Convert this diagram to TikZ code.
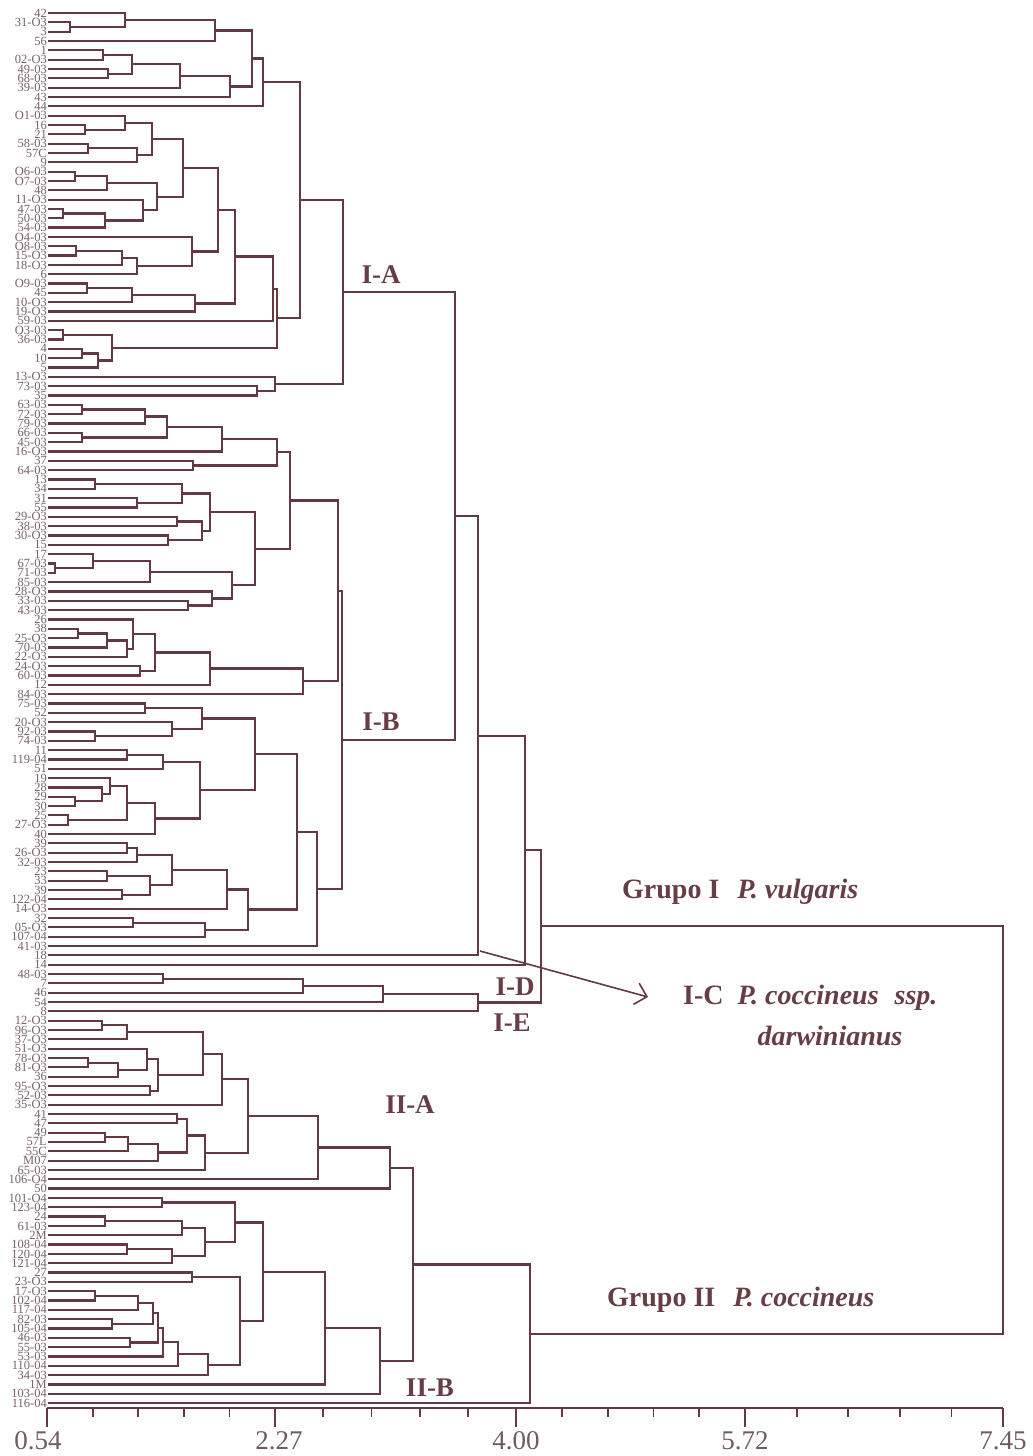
\documentclass[tikz,border=0pt]{standalone}
\usepackage{fontspec}
\setmainfont{Liberation Serif}
\usetikzlibrary{calc,arrows.meta}
\definecolor{ln}{RGB}{100,58,66}
\definecolor{lt}{RGB}{122,98,104}
\definecolor{gl}{RGB}{104,62,70}
\definecolor{ax}{RGB}{110,92,96}
\newcommand\dleaf[2]{%
  \node[lab] (t#1) at (47,{-(13+(#1-1)*9.33)}) {#2};
  \coordinate (L#1) at (48,{-(13+(#1-1)*9.33)});}
\newcommand\dmerge[4]{%
  \draw[br] let \p1=(#2), \p2=(#3) in (\p1) -- ({#4pt},\y1) -- ({#4pt},\y2) -- (\p2);
  \path let \p1=(#2), \p2=(#3) in ({#4pt},{(\y1+\y2)/2}) coordinate (#1);}
\begin{document}
\begin{tikzpicture}[x=1pt,y=1pt,
  br/.style={draw=ln,line width=2.2pt,line join=miter},
  lab/.style={anchor=east,text=lt,inner sep=0pt,font=\fontsize{12.5}{12}\selectfont},
  grp/.style={text=gl,inner sep=0pt,font=\fontsize{27}{27}\selectfont\bfseries},
  big/.style={text=gl,inner sep=0pt,anchor=west,font=\fontsize{28}{28}\selectfont\bfseries},
  axl/.style={text=ax,inner sep=0pt,font=\fontsize{27}{27}\selectfont},
  tk/.style={draw=ln,line width=1.8pt},
  arr/.style={draw=ln,line width=1.6pt,-{Straight Barb[length=11pt,width=22pt,line width=1.6pt]}}]
\fill[white] (0,-1456) rectangle (1033,0);
\useasboundingbox (0,-1456) rectangle (1033,0);
% leaves
\dleaf{1}{42}\dleaf{2}{31-O3}\dleaf{3}{3}\dleaf{4}{56}\dleaf{5}{1}
\dleaf{6}{02-O3}\dleaf{7}{49-03}\dleaf{8}{68-03}\dleaf{9}{39-03}\dleaf{10}{43}
\dleaf{11}{44}\dleaf{12}{O1-03}\dleaf{13}{16}\dleaf{14}{21}\dleaf{15}{58-03}
\dleaf{16}{57C}\dleaf{17}{9}\dleaf{18}{O6-03}\dleaf{19}{O7-03}\dleaf{20}{48}
\dleaf{21}{11-O3}\dleaf{22}{47-03}\dleaf{23}{50-03}\dleaf{24}{54-03}\dleaf{25}{O4-03}
\dleaf{26}{O8-03}\dleaf{27}{15-O3}\dleaf{28}{18-O3}\dleaf{29}{6}\dleaf{30}{O9-03}
\dleaf{31}{45}\dleaf{32}{10-O3}\dleaf{33}{19-O3}\dleaf{34}{59-03}\dleaf{35}{O3-03}
\dleaf{36}{36-03}\dleaf{37}{4}\dleaf{38}{10}\dleaf{39}{5}\dleaf{40}{13-O3}
\dleaf{41}{73-03}\dleaf{42}{35}\dleaf{43}{63-03}\dleaf{44}{72-03}\dleaf{45}{79-03}
\dleaf{46}{66-03}\dleaf{47}{45-03}\dleaf{48}{16-O3}\dleaf{49}{37}\dleaf{50}{64-03}
\dleaf{51}{13}\dleaf{52}{34}\dleaf{53}{31}\dleaf{54}{55}\dleaf{55}{29-O3}
\dleaf{56}{38-03}\dleaf{57}{30-O3}\dleaf{58}{15}\dleaf{59}{17}\dleaf{60}{67-03}
\dleaf{61}{71-03}\dleaf{62}{85-03}\dleaf{63}{28-O3}\dleaf{64}{33-03}\dleaf{65}{43-03}
\dleaf{66}{26}\dleaf{67}{38}\dleaf{68}{25-O3}\dleaf{69}{70-03}\dleaf{70}{22-O3}
\dleaf{71}{24-O3}\dleaf{72}{60-03}\dleaf{73}{12}\dleaf{74}{84-03}\dleaf{75}{75-03}
\dleaf{76}{52}\dleaf{77}{20-O3}\dleaf{78}{92-03}\dleaf{79}{74-03}\dleaf{80}{11}
\dleaf{81}{119-04}\dleaf{82}{51}\dleaf{83}{19}\dleaf{84}{28}\dleaf{85}{29}
\dleaf{86}{30}\dleaf{87}{25}\dleaf{88}{27-O3}\dleaf{89}{40}\dleaf{90}{39}
\dleaf{91}{26-O3}\dleaf{92}{32-03}\dleaf{93}{23}\dleaf{94}{33}\dleaf{95}{39}
\dleaf{96}{122-04}\dleaf{97}{14-O3}\dleaf{98}{32}\dleaf{99}{05-O3}\dleaf{100}{107-04}
\dleaf{101}{41-03}\dleaf{102}{18}\dleaf{103}{14}\dleaf{104}{48-03}\dleaf{105}{7}
\dleaf{106}{46}\dleaf{107}{54}\dleaf{108}{8}\dleaf{109}{12-O3}\dleaf{110}{96-O3}
\dleaf{111}{37-O3}\dleaf{112}{51-O3}\dleaf{113}{78-O3}\dleaf{114}{81-O3}\dleaf{115}{36}
\dleaf{116}{95-O3}\dleaf{117}{52-03}\dleaf{118}{35-O3}\dleaf{119}{41}\dleaf{120}{47}
\dleaf{121}{49}\dleaf{122}{57L}\dleaf{123}{55C}\dleaf{124}{M07}\dleaf{125}{65-03}
\dleaf{126}{106-O4}\dleaf{127}{50}\dleaf{128}{101-O4}\dleaf{129}{123-04}\dleaf{130}{24}
\dleaf{131}{61-03}\dleaf{132}{2M}\dleaf{133}{108-04}\dleaf{134}{120-04}\dleaf{135}{121-04}
\dleaf{136}{27}\dleaf{137}{23-O3}\dleaf{138}{17-O3}\dleaf{139}{102-04}\dleaf{140}{117-04}
\dleaf{141}{82-03}\dleaf{142}{105-04}\dleaf{143}{46-03}\dleaf{144}{55-03}\dleaf{145}{53-03}
\dleaf{146}{110-04}\dleaf{147}{34-03}\dleaf{148}{1M}\dleaf{149}{103-04}\dleaf{150}{116-04}
% I-A
\dmerge{a1}{L2}{L3}{70}\dmerge{a2}{L1}{a1}{125}\dmerge{a3}{a2}{L4}{215}
\dmerge{a4}{L5}{L6}{103}\dmerge{a5}{L7}{L8}{108}\dmerge{a6}{a4}{a5}{132}
\dmerge{a7}{a6}{L9}{180}\dmerge{a8}{a7}{L10}{230}\dmerge{a9}{a3}{a8}{252}
\dmerge{a10}{a9}{L11}{263}
\dmerge{b1}{L13}{L14}{85}\dmerge{b2}{L12}{b1}{125}\dmerge{b3}{L15}{L16}{88}
\dmerge{b4}{b3}{L17}{137}\dmerge{b5}{b2}{b4}{152}\dmerge{b6}{L18}{L19}{75}
\dmerge{b7}{b6}{L20}{107}\dmerge{b8}{L22}{L23}{63}\dmerge{b9}{b8}{L24}{105}
\dmerge{b10}{L21}{b9}{143}\dmerge{b11}{b7}{b10}{157}\dmerge{b12}{b5}{b11}{183}
\dmerge{b13}{L26}{L27}{76}\dmerge{b14}{b13}{L28}{122}\dmerge{b15}{b14}{L29}{137}
\dmerge{b16}{L25}{b15}{192}\dmerge{b17}{b12}{b16}{218}\dmerge{b18}{L30}{L31}{87}
\dmerge{b19}{b18}{L32}{132}\dmerge{b20}{b19}{L33}{195}\dmerge{b21}{b17}{b20}{235}
\dmerge{b22}{b21}{L34}{273}\dmerge{b23}{L35}{L36}{63}\dmerge{b24}{L37}{L38}{82}
\dmerge{b25}{b24}{L39}{98}\dmerge{b26}{b23}{b25}{112}\dmerge{b27}{b22}{b26}{277}
\dmerge{c1}{a10}{b27}{300}\dmerge{c2}{L41}{L42}{257}\dmerge{c3}{L40}{c2}{275}
\dmerge{IA}{c1}{c3}{343}
% I-B
\dmerge{d1}{L43}{L44}{82}\dmerge{d2}{d1}{L45}{145}\dmerge{d3}{L46}{L47}{82}
\dmerge{d4}{d2}{d3}{167}\dmerge{d5}{d4}{L48}{222}\dmerge{d6}{L49}{L50}{193}
\dmerge{d7}{d5}{d6}{277}\dmerge{d8}{L51}{L52}{95}\dmerge{d9}{L53}{L54}{137}
\dmerge{d10}{d8}{d9}{182}\dmerge{d11}{L55}{L56}{177}\dmerge{d12}{L57}{L58}{168}
\dmerge{d13}{d11}{d12}{202}\dmerge{d14}{d10}{d13}{210}\dmerge{d15}{L60}{L61}{55}
\dmerge{d16}{L59}{d15}{93}\dmerge{d17}{d16}{L62}{150}\dmerge{d18}{L64}{L65}{188}
\dmerge{d19}{L63}{d18}{212}\dmerge{d20}{d17}{d19}{232}\dmerge{d21}{d14}{d20}{255}
\dmerge{d22}{d7}{d21}{290}
\dmerge{e1}{L67}{L68}{78}\dmerge{e2}{e1}{L69}{107}\dmerge{e3}{e2}{L70}{127}
\dmerge{e4}{L66}{e3}{133}\dmerge{e5}{L71}{L72}{140}\dmerge{e6}{e4}{e5}{155}
\dmerge{e7}{e6}{L73}{210}\dmerge{e8}{e7}{L74}{303}\dmerge{e9}{d22}{e8}{338}
\dmerge{f1}{L75}{L76}{145}\dmerge{f2}{L78}{L79}{95}\dmerge{f3}{L77}{f2}{172}
\dmerge{f4}{f1}{f3}{202}\dmerge{f5}{L80}{L81}{127}\dmerge{f6}{f5}{L82}{163}
\dmerge{f7}{L85}{L86}{75}\dmerge{f8}{L84}{f7}{102}\dmerge{f9}{L83}{f8}{110}
\dmerge{f10}{L87}{L88}{68}\dmerge{f11}{f9}{f10}{127}\dmerge{f12}{f11}{L89}{155}
\dmerge{f13}{f6}{f12}{200}\dmerge{f14}{f4}{f13}{255}
\dmerge{g1}{L90}{L91}{127}\dmerge{g2}{g1}{L92}{137}\dmerge{g3}{L93}{L94}{107}
\dmerge{g4}{L95}{L96}{122}\dmerge{g5}{g3}{g4}{150}\dmerge{g6}{g2}{g5}{172}
\dmerge{g7}{g6}{L97}{227}\dmerge{g8}{L98}{L99}{133}\dmerge{g9}{g8}{L100}{205}
\dmerge{g10}{g7}{g9}{248}\dmerge{g11}{f14}{g10}{297}\dmerge{g12}{g11}{L101}{317}
\dmerge{IB}{e9}{g12}{342}
% Grupo I
\dmerge{h1}{IA}{IB}{455}\dmerge{h2}{h1}{L102}{478}\dmerge{h3}{h2}{L103}{525}
\dmerge{k1}{L104}{L105}{163}\dmerge{k2}{k1}{L106}{303}\dmerge{k3}{k2}{L107}{383}
\dmerge{k4}{k3}{L108}{478}\dmerge{GI}{h3}{k4}{541}
% II-A
\dmerge{m1}{L109}{L110}{102}\dmerge{m2}{m1}{L111}{127}\dmerge{m3}{L113}{L114}{88}
\dmerge{m4}{m3}{L115}{118}\dmerge{m5}{L112}{m4}{147}\dmerge{m6}{L116}{L117}{150}
\dmerge{m7}{m5}{m6}{158}\dmerge{m8}{m2}{m7}{203}\dmerge{m9}{m8}{L118}{222}
\dmerge{n1}{L119}{L120}{177}\dmerge{n2}{L121}{L122}{105}\dmerge{n3}{n2}{L123}{128}
\dmerge{n4}{n3}{L124}{158}\dmerge{n5}{n1}{n4}{187}\dmerge{n6}{n5}{L125}{205}
\dmerge{n7}{m9}{n6}{248}\dmerge{n8}{n7}{L126}{318}\dmerge{IIA}{n8}{L127}{390}
% II-B
\dmerge{p1}{L128}{L129}{162}\dmerge{p2}{L130}{L131}{105}\dmerge{p3}{p2}{L132}{182}
\dmerge{p4}{L133}{L134}{127}\dmerge{p5}{p4}{L135}{172}\dmerge{p6}{p3}{p5}{205}
\dmerge{p7}{p1}{p6}{235}
\dmerge{q1}{L136}{L137}{192}\dmerge{q2}{L138}{L139}{95}\dmerge{q3}{q2}{L140}{138}
\dmerge{q4}{L141}{L142}{112}\dmerge{q5}{q3}{q4}{153}\dmerge{q6}{L143}{L144}{130}
\dmerge{q7}{q5}{q6}{158}\dmerge{q8}{q7}{L145}{163}\dmerge{q9}{q8}{L146}{178}
\dmerge{q10}{q9}{L147}{208}\dmerge{q11}{q1}{q10}{240}\dmerge{q12}{p7}{q11}{263}
\dmerge{q13}{q12}{L148}{325}\dmerge{IIB}{q13}{L149}{380}
\dmerge{r1}{IIA}{IIB}{413}\dmerge{GII}{r1}{L150}{530}
\dmerge{root}{GI}{GII}{1003}
% axis
\coordinate (x0) at (47,-1408);
\coordinate (x4) at (1003,-1408);
\draw[tk] (x0) -- (x4);
\foreach \a/\b in {47/275,275/516,516/745,745/1003}{
  \foreach \k in {1,...,4}{
    \draw[tk] ({\a+(\b-\a)*\k/5},-1408) -- ++(0,-9);}
}
\foreach \p in {47,275,516,745,1003}{\draw[tk] (\p,-1408) -- ++(0,-19);}
\node[axl] (v1) at (38,-1441) {0.54};
\node[axl] (v2) at (279,-1441) {2.27};
\node[axl] (v3) at (516,-1441) {4.00};
\node[axl] (v4) at (745,-1441) {5.72};
\node[axl] (v5) at (1003,-1441) {7.45};
% group labels
\node[grp] (lIA) at (381,-275) {I-A};
\node[grp] (lIB) at (381,-722) {I-B};
\node[grp] (lID) at (515,-987) {I-D};
\node[grp] (lIE) at (512,-1023) {I-E};
\node[grp] (lIIA) at (410,-1105) {II-A};
\node[grp] (lIIB) at (430,-1388) {II-B};
\node[big] (gI) at (622,-892) {Grupo I\hspace{18pt}\textit{P. vulgaris}};
\node[big] (gIC) at (683,-998) {I-C\hspace{14pt}\textit{P. coccineus\hspace{16pt}ssp.}};
\node[grp,font=\fontsize{28}{28}\selectfont\bfseries\itshape] (gIC2) at (830,-1036) {darwinianus};
\node[big] (gII) at (607,-1300) {Grupo II\hspace{18pt}\textit{P. coccineus}};
% arrow
\coordinate (ast) at (480,-951);
\coordinate (aend) at (648,-997);
\draw[arr] (ast) -- (aend);
\end{tikzpicture}
\end{document}
